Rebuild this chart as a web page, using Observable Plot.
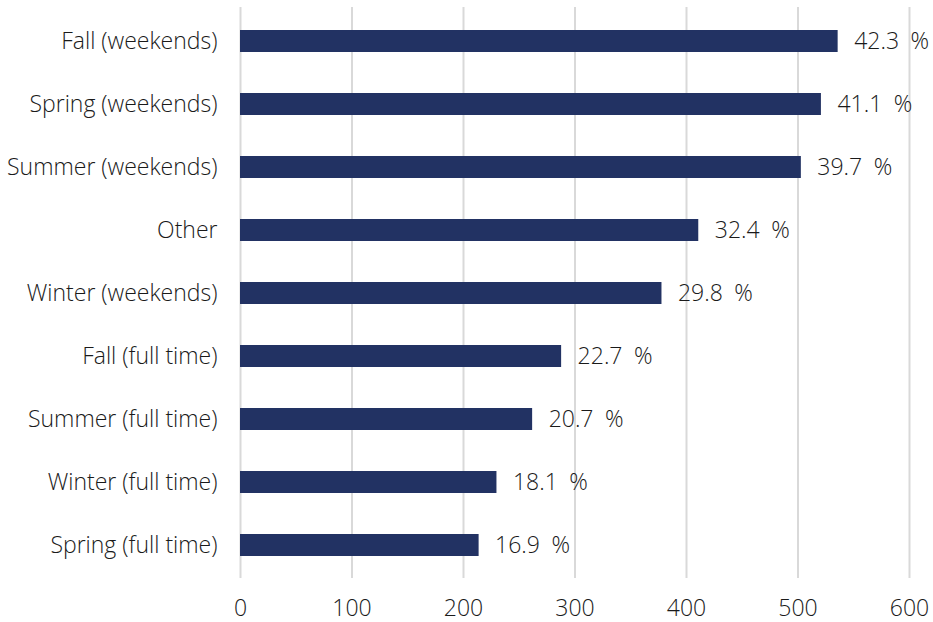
<!DOCTYPE html>
<html>
<head>
<meta charset="utf-8">
<script src="https://cdn.jsdelivr.net/npm/d3@7"></script>
<script src="https://cdn.jsdelivr.net/npm/@observablehq/plot@0.6"></script>
<style>
  html, body { margin: 0; padding: 0; background: #ffffff; }
  #chart svg { display: block; }
</style>
</head>
<body>
<div id="chart"></div>
<script>
const categories = [
  "Fall (weekends)",
  "Spring (weekends)",
  "Summer (weekends)",
  "Other",
  "Winter (weekends)",
  "Fall (full time)",
  "Summer (full time)",
  "Winter (full time)",
  "Spring (full time)"
];
const counts = [536, 521, 503, 411, 378, 288, 262, 230, 214];
const percents = [42.3, 41.1, 39.7, 32.4, 29.8, 22.7, 20.7, 18.1, 16.9];
const xTicks = [0, 100, 200, 300, 400, 500, 600];

const data = categories.map((c, i) => ({category: c, count: counts[i], pct: percents[i]}));

const font = "'Open Sans', 'Noto Sans', sans-serif";

const chart = Plot.plot({
  width: 933,
  height: 622,
  marginLeft: 240,
  marginRight: 24,
  marginTop: 7,
  marginBottom: 44,
  style: {fontFamily: font, fontSize: "23px", fontWeight: 300, color: "#1a1a1a", background: "#ffffff"},
  x: {domain: [0, 600], ticks: xTicks},
  y: {domain: categories, paddingInner: 0.654, paddingOuter: 0.327},
  marks: [
    Plot.gridX(xTicks, {stroke: "#d9d9d9", strokeWidth: 2, strokeOpacity: 1}),
    Plot.barX(data, {x: "count", y: "category", fill: "#223263"}),
    Plot.text(data, {
      x: "count", y: "category",
      text: d => d.pct.toFixed(1) + "\u2002%",
      textAnchor: "start", dx: 16,
      fontSize: 23, fontWeight: 300, fill: "#1a1a1a"
    }),
    Plot.axisY({tickSize: 0, tickPadding: 23, fontSize: 23, fontWeight: 300, label: null}),
    Plot.axisX({ticks: xTicks, tickSize: 0, tickPadding: 21, fontSize: 23, fontWeight: 300, label: null})
  ]
});

document.getElementById("chart").appendChild(chart);
</script>
</body>
</html>
